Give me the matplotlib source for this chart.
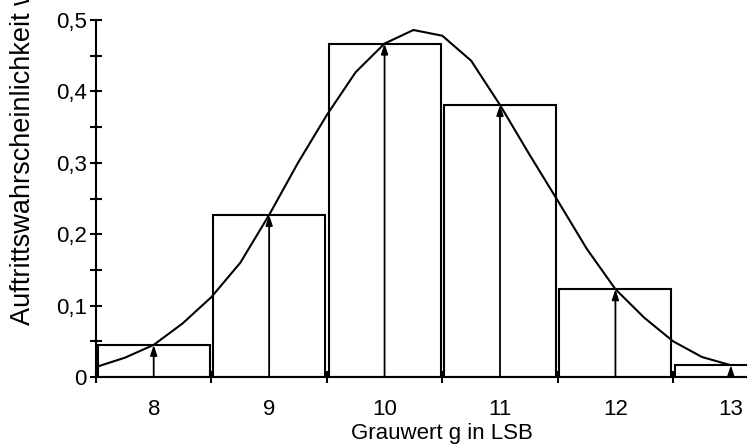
import matplotlib.pyplot as plt
from matplotlib.ticker import FixedLocator, FuncFormatter

plt.rcParams['font.family'] = ['Liberation Sans', 'DejaVu Sans']

# Histogramm der Grauwerte
grauwerte = [8, 9, 10, 11, 12, 13]
haeufigkeit = [0.045, 0.227, 0.467, 0.381, 0.123, 0.0165]

kurve_x = [7.5, 7.75, 8.0, 8.25, 8.5, 8.75, 9.0, 9.25, 9.5, 9.75, 10.0, 10.25,
           10.5, 10.75, 11.0, 11.25, 11.5, 11.75, 12.0, 12.25, 12.5, 12.75, 13.0]
kurve_w = [0.014, 0.027, 0.045, 0.075, 0.112, 0.160, 0.227, 0.300, 0.367, 0.427,
           0.467, 0.486, 0.478, 0.443, 0.381, 0.313, 0.247, 0.180, 0.123, 0.083,
           0.050, 0.028, 0.0165]

fig = plt.figure(figsize=(7.47, 4.47), dpi=100)
ax = fig.add_axes([96 / 747, 1 - 377 / 447, 1 - 96 / 747, (377 - 20) / 447])

ax.bar(grauwerte, haeufigkeit, width=0.97, facecolor='white',
       edgecolor='black', linewidth=1.5, zorder=2)
ax.plot(kurve_x, kurve_w, color='black', linewidth=1.5, zorder=3)

for g, w in zip(grauwerte, haeufigkeit):
    ax.annotate('', xy=(g, w), xytext=(g, 0),
                arrowprops=dict(arrowstyle='-|>,head_length=0.6,head_width=0.2',
                                color='black', lw=1.3, shrinkA=0, shrinkB=0),
                zorder=4)

ax.set_xlim(7.5, 13.14)
ax.set_ylim(0, 0.5)
ax.spines['top'].set_visible(False)
ax.spines['right'].set_visible(False)
for s in ('left', 'bottom'):
    ax.spines[s].set_linewidth(1.5)

ax.xaxis.set_major_locator(FixedLocator(grauwerte))
ax.xaxis.set_minor_locator(FixedLocator([7.5, 8.5, 9.5, 10.5, 11.5, 12.5]))
ax.tick_params(axis='x', which='major', length=0, pad=16, labelsize=16)
ax.tick_params(axis='x', which='minor', direction='inout', length=9, width=1.5)

ax.yaxis.set_major_locator(FixedLocator([0, 0.1, 0.2, 0.3, 0.4, 0.5]))
ax.yaxis.set_minor_locator(FixedLocator([0.05, 0.15, 0.25, 0.35, 0.45]))
ax.yaxis.set_major_formatter(FuncFormatter(
    lambda v, p: '0' if v == 0 else f'{v:.1f}'.replace('.', ',')))
ax.tick_params(axis='y', which='both', direction='inout', length=9, width=1.5,
               labelsize=16, pad=2)

# Achsentitel mittig ueber dem Bereich 7,5 ... 13,5
ax.set_xlabel('Grauwert g in LSB', fontsize=16, labelpad=2)
ax.xaxis.label.set_x((10.5 - 7.5) / (13.14 - 7.5))
fig.text(23 / 747, 1 - 325 / 447, 'Auftrittswahrscheinlichkeit w', rotation=90,
         fontsize=19.5, ha='center', va='bottom')

fig.savefig('out.png', dpi=100)
